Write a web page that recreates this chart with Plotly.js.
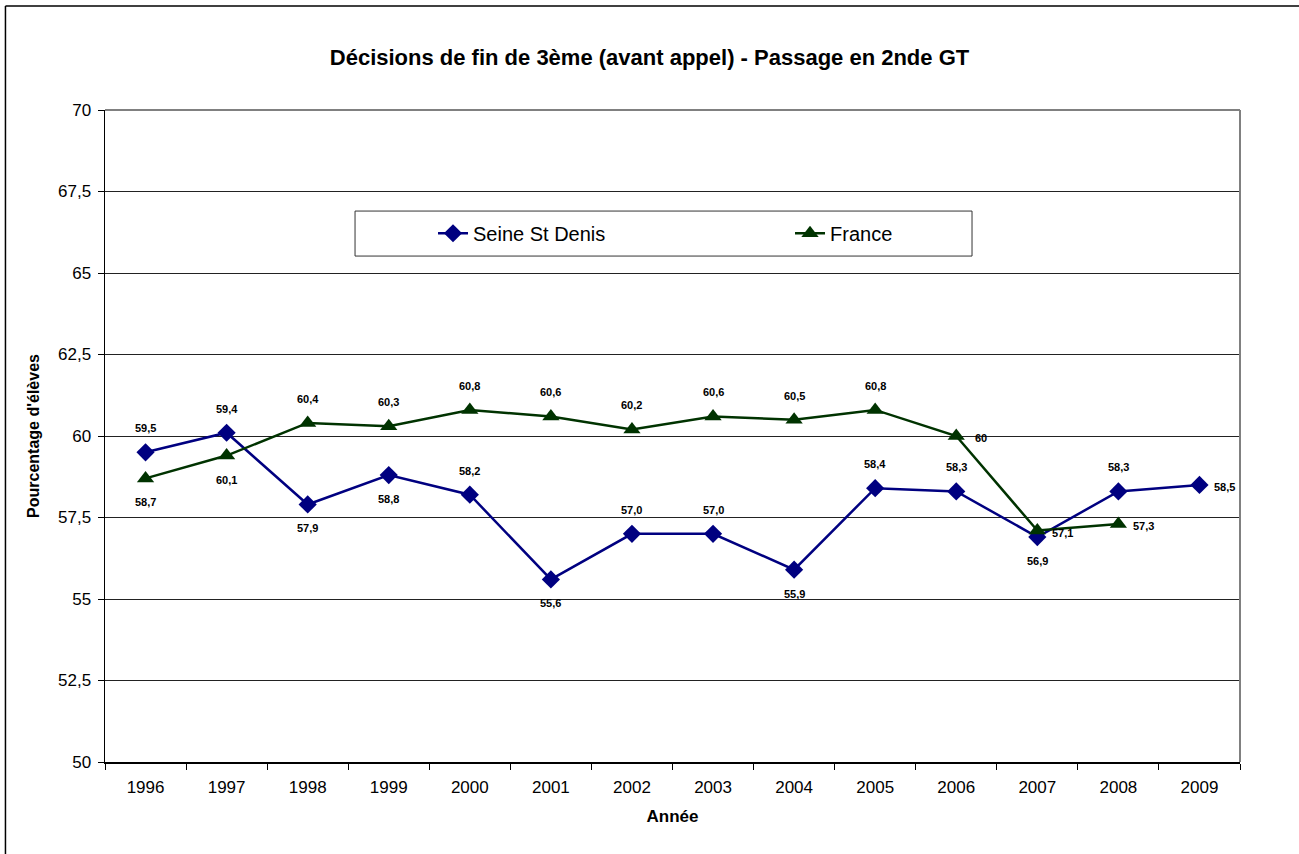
<!DOCTYPE html>
<html>
<head>
<meta charset="utf-8">
<script src="https://cdn.plot.ly/plotly-3.0.1.min.js"></script>
<style>html,body{margin:0;padding:0;background:#fff;}#chart{width:1299px;height:854px;}</style>
</head>
<body>
<div id="chart"></div>
<script>
const years = ['1996','1997','1998','1999','2000','2001','2002','2003','2004','2005','2006','2007','2008','2009'];
const seineValues = [59.5, 60.1, 57.9, 58.8, 58.2, 55.6, 57.0, 57.0, 55.9, 58.4, 58.3, 56.9, 58.3, 58.5];
const franceValues = [58.7, 59.4, 60.4, 60.3, 60.8, 60.6, 60.2, 60.6, 60.5, 60.8, 60.0, 57.1, 57.3, null];
const seineLabels = ['59,5','59,4','57,9','58,8','58,2','55,6','57,0','57,0','55,9','58,4','58,3','56,9','58,3','58,5'];
const seineLabelPos = ['above','above','below','below','above','below','above','above','below','above','above','below','above','right'];
const franceLabels = ['58,7','60,1','60,4','60,3','60,8','60,6','60,2','60,6','60,5','60,8','60','57,1','57,3',null];
const franceLabelPos = ['below','below','above','above','above','above','above','above','above','above','right','right','right',null];

const FONT = 'Arial, "Liberation Sans", sans-serif';

function makeLabels(vals, labels, pos) {
  const out = [];
  for (let i = 0; i < years.length; i++) {
    if (labels[i] == null || vals[i] == null) continue;
    const a = {x: i, y: vals[i], xref: 'x', yref: 'y', text: labels[i], showarrow: false,
      font: {family: FONT, size: 11, color: '#000', weight: 'bold'}};
    if (pos[i] === 'above') { a.yshift = 24; }
    else if (pos[i] === 'below') { a.yshift = -24; }
    else { a.xshift = 25; a.yshift = -2; }
    out.push(a);
  }
  return out;
}

const traces = [
  {x: years, y: seineValues, name: 'Seine St Denis', type: 'scatter', mode: 'lines+markers',
   line: {color: '#000080', width: 2.5}, marker: {symbol: 'diamond', size: 14, color: '#000080'}},
  {x: years, y: franceValues, name: 'France', type: 'scatter', mode: 'lines+markers',
   line: {color: '#003300', width: 2.5}, marker: {symbol: 'triangle-up', size: 15, color: '#003300'}}
];

const layout = {
  width: 1299, height: 854,
  margin: {l: 105, r: 59, t: 110, b: 92},
  paper_bgcolor: '#fff', plot_bgcolor: '#fff',
  font: {family: FONT, color: '#000'},
  title: {text: 'Décisions de fin de 3ème (avant appel) - Passage en 2nde GT',
    font: {family: FONT, size: 22, color: '#000', weight: 'bold'}, x: 0.5, xanchor: 'center', y: 0.933, yanchor: 'middle'},
  xaxis: {type: 'category', range: [-0.5, 13.5], tickson: 'boundaries', ticks: 'outside', ticklen: 6,
    tickcolor: '#000', showline: true, linecolor: '#000', linewidth: 1.5, showgrid: false, zeroline: false,
    ticklabelstandoff: 9,
    tickfont: {family: FONT, size: 17, color: '#000'},
    title: {text: 'Année', font: {family: FONT, size: 17, color: '#000', weight: 'bold'}, standoff: 14}},
  yaxis: {range: [50, 70], tickvals: [50, 52.5, 55, 57.5, 60, 62.5, 65, 67.5, 70],
    ticktext: ['50', '52,5', '55', '57,5', '60', '62,5', '65', '67,5', '70'],
    ticks: 'outside', ticklen: 6, tickcolor: '#000', showline: true, linecolor: '#000', linewidth: 1.5,
    showgrid: true, gridcolor: '#222', gridwidth: 1, zeroline: false,
    ticklabelstandoff: 3,
    tickfont: {family: FONT, size: 17, color: '#000'},
    title: {text: "Pourcentage d'élèves", font: {family: FONT, size: 16, color: '#000', weight: 'bold'}, standoff: 14}},
  showlegend: true,
  legend: {orientation: 'h', x: 0.289, xanchor: 'left', y: 0.811, yanchor: 'middle',
    bgcolor: 'rgba(0,0,0,0)', borderwidth: 0, entrywidth: 312, entrywidthmode: 'pixels',
    font: {family: FONT, size: 20, color: '#000'}, traceorder: 'normal', itemwidth: 30},
  shapes: [
    {type: 'rect', xref: 'paper', yref: 'paper', x0: 0.2203, x1: 0.7639, y0: 0.776, y1: 0.845,
     line: {color: '#333', width: 1}, fillcolor: '#fff', layer: 'below'},
    {type: 'line', xref: 'paper', yref: 'paper', x0: 0, x1: 1, y0: 1, y1: 1, line: {color: '#808080', width: 2}},
    {type: 'line', xref: 'paper', yref: 'paper', x0: 1, x1: 1, y0: 0, y1: 1, line: {color: '#808080', width: 2}},
    {type: 'line', xref: 'paper', yref: 'paper', x0: -0.0877, x1: -0.0877, y0: -0.15, y1: 1.1595, line: {color: '#000', width: 1.5}},
    {type: 'line', xref: 'paper', yref: 'paper', x0: -0.0877, x1: 1.06, y0: 1.1595, y1: 1.1595, line: {color: '#000', width: 1.5}}
  ],
  annotations: makeLabels(seineValues, seineLabels, seineLabelPos).concat(makeLabels(franceValues, franceLabels, franceLabelPos))
};

Plotly.newPlot('chart', traces, layout, {displayModeBar: false, staticPlot: true});
</script>
</body>
</html>
